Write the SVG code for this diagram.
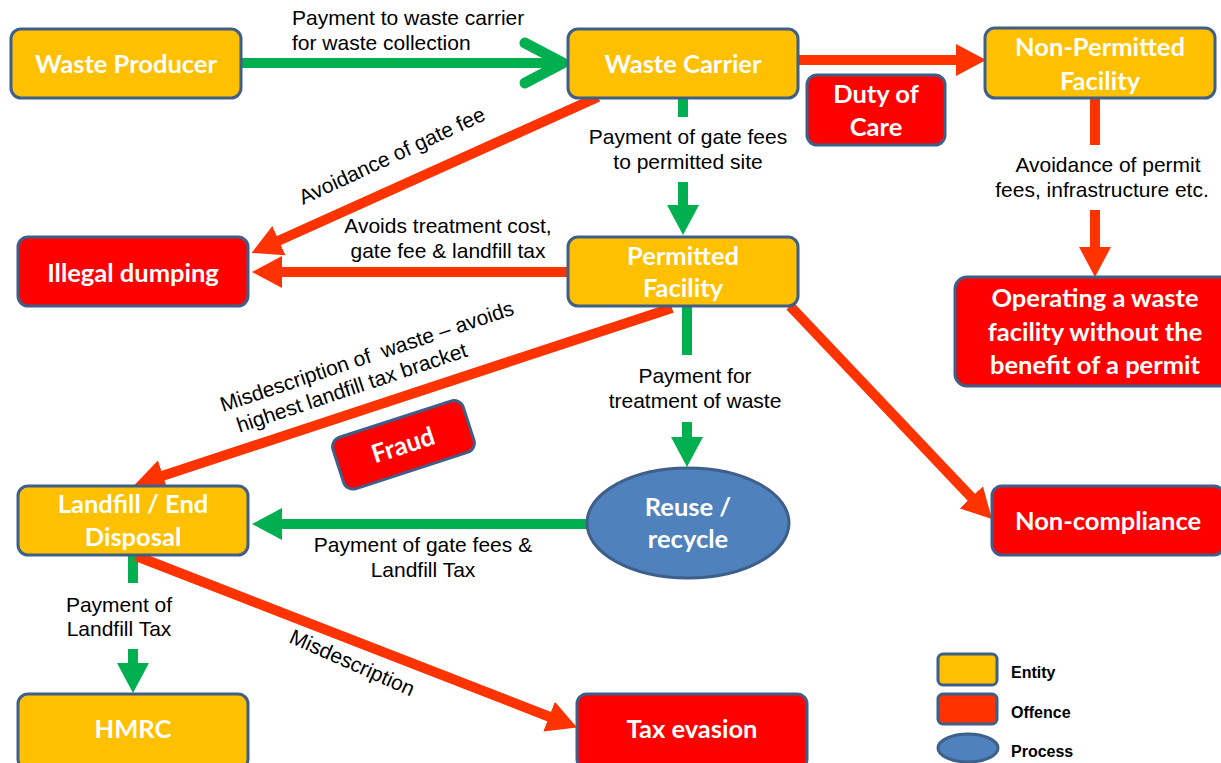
<svg xmlns="http://www.w3.org/2000/svg" width="1221" height="763" viewBox="0 0 1221 763">
<style>
.ent{fill:#FFC000;stroke:#3E5F8A;stroke-width:3}
.off{fill:#FF0000;stroke:#3E5F8A;stroke-width:3}
.proc{fill:#4F81BD;stroke:#3E5F8A;stroke-width:3}
.nt{font-family:Lato,"Open Sans",sans-serif;font-weight:bold;font-size:25.5px;fill:#FFFFFF;text-anchor:middle}
.lb{font-family:"Liberation Sans",Arial,sans-serif;font-size:21px;fill:#000000}
.lbm{font-family:"Liberation Sans",Arial,sans-serif;font-size:21px;fill:#000000;text-anchor:middle}
.lg{font-family:"Liberation Sans",Arial,sans-serif;font-size:16px;font-weight:bold;fill:#000000}
.g{fill:none;stroke:#00B050;stroke-width:10}
.r{fill:none;stroke:#FF3300;stroke-width:10}
</style>
<defs>
<marker id="hg" viewBox="0 -16 30 32" refX="1" refY="0" markerWidth="30" markerHeight="32" markerUnits="userSpaceOnUse" orient="auto">
<path d="M0,-16 L30,0 L0,16 Z" fill="#00B050"/>
</marker>
<marker id="hr" viewBox="0 -16 30 32" refX="1" refY="0" markerWidth="30" markerHeight="32" markerUnits="userSpaceOnUse" orient="auto">
<path d="M0,-16 L30,0 L0,16 Z" fill="#FF3300"/>
</marker>
</defs>
<rect width="1221" height="763" fill="#FFFFFF"/>
<g id="connectors">
<path class="g" d="M241,63 L561,63"/>
<path d="M525,43 L563,63 L525,83" fill="none" stroke="#00B050" stroke-width="11" stroke-linecap="round" stroke-linejoin="round"/>
<path class="r" d="M798,60 L957,60" marker-end="url(#hr)"/>
<path class="g" d="M683,98 L683,117"/>
<path class="g" d="M683,182 L683,206" marker-end="url(#hg)"/>
<path class="r" d="M598,97 L278,241" marker-end="url(#hr)"/>
<path class="r" d="M568,272 L281,272" marker-end="url(#hr)"/>
<path class="r" d="M672,308 L162,476" marker-end="url(#hr)"/>
<path class="r" d="M790,306 L972,498" marker-end="url(#hr)"/>
<path class="g" d="M687,306 L687,355"/>
<path class="g" d="M687,422 L687,438" marker-end="url(#hg)"/>
<path class="g" d="M587,524 L281,524" marker-end="url(#hg)"/>
<path class="g" d="M133,555 L133,583"/>
<path class="g" d="M133,649 L133,664" marker-end="url(#hg)"/>
<path class="r" d="M136,556 L550,717" marker-end="url(#hr)"/>
<path class="r" d="M1095,98 L1095,145"/>
<path class="r" d="M1095,210 L1095,248" marker-end="url(#hr)"/>
<text class="lb" x="292" y="25">Payment to waste carrier</text>
<text class="lb" x="292" y="50">for waste collection</text>
<text class="lbm" x="688" y="144">Payment of gate fees</text>
<text class="lbm" x="688" y="169">to permitted site</text>
<text class="lb" x="303" y="205" transform="rotate(-25 303 205)">Avoidance of gate fee</text>
<text class="lbm" x="448" y="233">Avoids treatment cost,</text>
<text class="lbm" x="448" y="258">gate fee &amp; landfill tax</text>
<text class="lbm" x="1108" y="172">Avoidance of permit</text>
<text class="lbm" x="1102" y="197">fees, infrastructure etc.</text>
<text class="lb" x="223" y="412" transform="rotate(-18.5 223 412)" xml:space="preserve"><tspan x="223" y="412">Misdescription of  waste – avoids</tspan><tspan x="232" y="437">highest landfill tax bracket</tspan></text>
<text class="lbm" x="695" y="383">Payment for</text>
<text class="lbm" x="695" y="408">treatment of waste</text>
<text class="lbm" x="423" y="552">Payment of gate fees &amp;</text>
<text class="lbm" x="423" y="577">Landfill Tax</text>
<text class="lbm" x="119" y="612">Payment of</text>
<text class="lbm" x="119" y="636">Landfill Tax</text>
<text class="lb" x="288" y="642" transform="rotate(24 288 642)">Misdescription</text>
</g>
<g id="waste-producer">
<rect class="ent" x="11" y="29" width="230" height="69" rx="10"/>
<text class="nt" x="126" y="73">Waste Producer</text>
</g>
<g id="waste-carrier">
<rect class="ent" x="568" y="29" width="230" height="69" rx="10"/>
<text class="nt" x="683" y="73">Waste Carrier</text>
</g>
<g id="non-permitted-facility">
<rect class="ent" x="985" y="28" width="230" height="70" rx="10"/>
<text class="nt" x="1100" y="56">Non-Permitted</text>
<text class="nt" x="1100" y="90">Facility</text>
</g>
<g id="duty-of-care">
<rect class="off" x="807" y="75" width="138" height="70" rx="10"/>
<text class="nt" x="876" y="103">Duty of</text>
<text class="nt" x="876" y="136">Care</text>
</g>
<g id="illegal-dumping">
<rect class="off" x="18" y="237" width="230" height="69" rx="10"/>
<text class="nt" x="133" y="282">Illegal dumping</text>
</g>
<g id="permitted-facility">
<rect class="ent" x="568" y="237" width="230" height="69" rx="10"/>
<text class="nt" x="683" y="265">Permitted</text>
<text class="nt" x="683" y="297">Facility</text>
</g>
<g id="operating-without-permit">
<rect class="off" x="955" y="277" width="280" height="109" rx="12"/>
<text class="nt" x="1095" y="307">Operating a waste</text>
<text class="nt" x="1095" y="341">facility without the</text>
<text class="nt" x="1095" y="374">benefit of a permit</text>
</g>
<g id="fraud" transform="translate(403,445) rotate(-18)">
<rect class="off" x="-68" y="-27" width="137" height="54" rx="10"/>
<text class="nt" x="0" y="9">Fraud</text>
</g>
<g id="landfill">
<rect class="ent" x="18" y="486" width="230" height="69" rx="10"/>
<text class="nt" x="133" y="513">Landfill / End</text>
<text class="nt" x="133" y="546">Disposal</text>
</g>
<g id="reuse-recycle">
<ellipse class="proc" cx="688" cy="523" rx="101" ry="55"/>
<text class="nt" x="688" y="516">Reuse /</text>
<text class="nt" x="688" y="548">recycle</text>
</g>
<g id="non-compliance">
<rect class="off" x="992" y="486" width="232" height="69" rx="10"/>
<text class="nt" x="1108" y="530">Non-compliance</text>
</g>
<g id="hmrc">
<rect class="ent" x="18" y="694" width="230" height="75" rx="10"/>
<text class="nt" x="133" y="738">HMRC</text>
</g>
<g id="tax-evasion">
<rect class="off" x="577" y="694" width="230" height="75" rx="10"/>
<text class="nt" x="692" y="738">Tax evasion</text>
</g>
<g id="legend">
<rect x="938" y="654" width="59" height="31" rx="5" fill="#FFC000" stroke="#3E5F8A" stroke-width="3"/>
<rect x="938" y="694" width="59" height="30" rx="5" fill="#FF3300" stroke="#3E5F8A" stroke-width="3"/>
<ellipse cx="968" cy="748" rx="30" ry="14" fill="#4F81BD" stroke="#3E5F8A" stroke-width="3"/>
<text class="lg" x="1011" y="678">Entity</text>
<text class="lg" x="1011" y="718">Offence</text>
<text class="lg" x="1011" y="757">Process</text>
</g>
</svg>
